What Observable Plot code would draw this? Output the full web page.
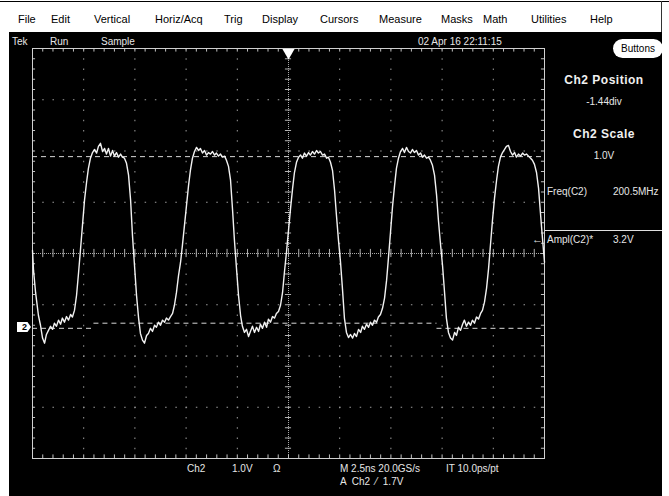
<!DOCTYPE html>
<html>
<head>
<meta charset="utf-8">
<script src="https://cdn.jsdelivr.net/npm/d3@7"></script>
<script src="https://cdn.jsdelivr.net/npm/@observablehq/plot@0.6"></script>
<style>
  html, body { margin: 0; padding: 0; background: #fff; }
  #scope { position: relative; width: 669px; height: 496px; overflow: hidden; background: #fff;
    font-family: "Liberation Sans Narrow", "Liberation Sans", Arial, sans-serif; }
  .abs { position: absolute; white-space: nowrap; line-height: 1; }
  .menu { font-size: 11px; color: #000; top: 14px; }
  .scr { font-size: 10px; color: #e6e6e6; }
  .bold { font-weight: bold; font-size: 12px; font-family: "Liberation Sans", Arial, sans-serif; color: #f0f0f0; letter-spacing: 0.5px; }
  #chart { position: absolute; left: 0; top: 0; }
</style>
</head>
<body>
<div id="scope"></div>
<script>
// ---------- data ----------
const menuItems = ["File","Edit","Vertical","Horiz/Acq","Trig","Display","Cursors","Measure","Masks","Math","Utilities","Help"];
const statusItems = ["Tek","Run","Sample"];
const timestamp = "02 Apr 16 22:11:15";
const panelTitles = ["Ch2 Position","Ch2 Scale"];
const panelValues = ["-1.44div","1.0V"];
const measureNames = ["Freq(C2)","Ampl(C2)*"];
const measureValues = ["200.5MHz","3.2V"];
const readoutLine1 = ["Ch2","1.0V","Ω","M 2.5ns 20.0GS/s","IT 10.0ps/pt"];
const readoutLine2 = ["A  Ch2  ⁄  1.7V"];

// screen: 10 divisions of 2.5 ns, 8 divisions of 1 V, ground at -1.44 div
const timeDomain = [0, 25];
const voltDomain = [-2.56, 5.44];

// waveform samples (ns, V)
const waveT = [0,0.05,0.15,0.29,0.39,0.49,0.59,0.68,0.78,0.88,0.98,1.07,1.17,1.27,1.37,1.46,1.56,1.66,1.76,1.86,1.95,2.05,2.15,2.25,2.34,2.44,2.54,2.64,2.73,2.83,2.93,3.03,3.13,3.22,3.32,3.42,3.52,3.61,3.71,3.81,3.91,4.00,4.10,4.20,4.30,4.39,4.49,4.59,4.69,4.79,4.88,4.98,5.08,5.18,5.27,5.37,5.47,5.57,5.66,5.76,5.86,5.96,6.05,6.15,6.25,6.35,6.45,6.54,6.64,6.74,6.84,6.93,7.03,7.13,7.23,7.32,7.42,7.52,7.62,7.71,7.81,7.91,8.01,8.11,8.20,8.30,8.40,8.50,8.59,8.69,8.79,8.89,8.98,9.08,9.18,9.28,9.38,9.47,9.57,9.67,9.77,9.86,9.96,10.06,10.16,10.25,10.35,10.45,10.55,10.64,10.74,10.84,10.94,11.04,11.13,11.23,11.33,11.43,11.52,11.62,11.72,11.82,11.91,12.01,12.11,12.21,12.30,12.40,12.50,12.60,12.70,12.79,12.89,12.99,13.09,13.18,13.28,13.38,13.48,13.57,13.67,13.77,13.87,13.96,14.06,14.16,14.26,14.36,14.45,14.55,14.65,14.75,14.84,14.94,15.04,15.14,15.23,15.33,15.43,15.53,15.63,15.72,15.82,15.92,16.02,16.11,16.21,16.31,16.41,16.50,16.60,16.70,16.80,16.89,16.99,17.09,17.19,17.29,17.38,17.48,17.58,17.68,17.77,17.87,17.97,18.07,18.16,18.26,18.36,18.46,18.55,18.65,18.75,18.85,18.95,19.04,19.14,19.24,19.34,19.43,19.53,19.63,19.73,19.82,19.92,20.02,20.12,20.21,20.31,20.41,20.51,20.61,20.70,20.80,20.90,21.00,21.09,21.19,21.29,21.39,21.48,21.58,21.68,21.78,21.88,21.97,22.07,22.17,22.27,22.36,22.46,22.56,22.66,22.75,22.85,22.95,23.05,23.14,23.24,23.34,23.44,23.54,23.63,23.73,23.83,23.93,24.02,24.12,24.22,24.32,24.41,24.51,24.61,24.71,24.80,24.90,25.00];
const waveV = [1.50,1.11,0.68,0.23,0.04,-0.21,-0.31,-0.14,-0.06,0.02,-0.04,0.08,0.02,0.14,0.06,0.18,0.10,0.21,0.14,0.25,0.20,0.33,0.62,1.07,1.50,1.99,2.48,2.83,3.10,3.30,3.41,3.47,3.40,3.53,3.59,3.43,3.49,3.38,3.49,3.34,3.45,3.34,3.41,3.32,3.38,3.32,3.30,3.20,2.97,2.48,1.80,1.21,0.62,0.18,-0.12,-0.25,-0.31,-0.16,-0.12,-0.02,-0.08,0.04,0.00,0.10,0.04,0.14,0.10,0.18,0.14,0.21,0.27,0.43,0.68,1.01,1.27,1.60,1.99,2.38,2.77,3.06,3.30,3.43,3.51,3.45,3.49,3.40,3.45,3.36,3.41,3.38,3.43,3.36,3.40,3.34,3.38,3.32,3.34,3.26,3.14,2.87,2.28,1.70,1.15,0.62,0.23,0.02,-0.10,-0.04,-0.18,-0.08,0.02,-0.10,0.00,-0.08,0.06,-0.02,0.10,0.00,0.16,0.10,0.21,0.18,0.27,0.31,0.43,0.68,1.07,1.46,1.89,2.32,2.71,3.02,3.22,3.32,3.36,3.30,3.40,3.34,3.41,3.36,3.43,3.38,3.45,3.40,3.43,3.36,3.38,3.30,3.32,3.22,3.06,2.67,2.19,1.70,1.27,0.72,0.18,-0.10,-0.20,-0.14,-0.21,-0.12,-0.18,-0.04,-0.10,0.02,-0.04,0.06,0.00,0.10,0.04,0.14,0.10,0.20,0.25,0.37,0.57,0.92,1.35,1.85,2.36,2.77,3.10,3.30,3.43,3.49,3.41,3.51,3.43,3.40,3.47,3.41,3.45,3.36,3.40,3.32,3.36,3.30,3.32,3.26,3.16,2.97,2.58,2.09,1.63,1.21,0.68,0.18,-0.10,-0.21,-0.25,-0.10,-0.16,0.00,-0.06,0.06,0.14,0.02,0.10,0.04,0.14,0.08,0.20,0.16,0.27,0.33,0.49,0.76,1.15,1.60,2.09,2.52,2.87,3.14,3.32,3.41,3.47,3.53,3.55,3.43,3.36,3.41,3.32,3.38,3.34,3.40,3.36,3.38,3.34,3.30,3.26,3.18,3.02,2.71,2.24,1.74,1.27];

// measurement cursor levels (V) and their time spans (ns)
const topCursor = [{v: 3.33, t1: 0, t2: 25}];
const baseCursor = [{v: -0.02, t1: 0, t2: 3.0}, {v: 0.08, t1: 3.0, t2: 19.75}, {v: -0.02, t1: 19.75, t2: 25}];
const triggerTime = [12.5];

// ---------- build ----------
const wave = waveT.map((t, i) => ({t, v: waveV[i]}));
const root = document.getElementById("scope");
function add(html) { root.insertAdjacentHTML("beforeend", html); }

// window chrome
add(`<div class="abs" style="left:0;top:1px;width:669px;height:1px;background:#000"></div>`);
add(`<div class="abs" style="left:661px;top:1px;width:1px;height:32px;background:#333"></div>`);
add(`<div class="abs" style="left:9px;top:32px;width:653px;height:464px;background:#000"></div>`);

const menuLeft = [18,51,94,155,224,262,320,379,441,483,531,590];
menuItems.forEach((m, i) => add(`<span class="abs menu" style="left:${menuLeft[i]}px">${m}</span>`));

const statusLeft = [12,50,101];
statusItems.forEach((s, i) => add(`<span class="abs scr" style="left:${statusLeft[i]}px;top:37px">${s}</span>`));
add(`<span class="abs scr" style="left:418px;top:37px">${timestamp}</span>`);

// Buttons pill
add(`<div class="abs" style="left:613px;top:39px;width:50px;height:19px;border-radius:10px;background:#fff;color:#000;font-size:10px;display:flex;align-items:center;justify-content:center">Buttons</div>`);

// right panel
const panelTitleY = [74, 128];
const panelValueY = [97, 151];
panelTitles.forEach((p, i) => {
  add(`<div class="abs bold" style="left:548px;width:112px;text-align:center;top:${panelTitleY[i]}px">${p}</div>`);
  add(`<div class="abs scr" style="left:548px;width:112px;text-align:center;top:${panelValueY[i]}px">${panelValues[i]}</div>`);
});
const measY = [187, 235];
measureNames.forEach((m, i) => {
  add(`<span class="abs scr" style="left:547px;top:${measY[i]}px">${m}</span>`);
  add(`<span class="abs scr" style="left:613px;top:${measY[i]}px">${measureValues[i]}</span>`);
});
add(`<div class="abs" style="left:544px;top:230px;width:118px;height:1px;background:#e0e0e0"></div>`);
add(`<span class="abs scr" style="left:532px;top:234px;font-size:11px">←</span>`);

// ground marker
add(`<div class="abs" style="left:17px;top:322px;width:14px;height:10px;background:#fff;color:#000;font-size:9px;font-weight:bold;line-height:10px;text-align:right;clip-path:polygon(0 0,75% 0,100% 50%,75% 100%,0 100%)"><span style="margin-right:4px">2</span></div>`);

// bottom readouts
const r1Left = [187,232,273,340,446];
readoutLine1.forEach((r, i) => add(`<span class="abs scr" style="left:${r1Left[i]}px;top:464px">${r}</span>`));
add(`<span class="abs scr" style="left:340px;top:477px;white-space:pre">${readoutLine2[0]}</span>`);

// ---------- graticule + trace ----------
const divT = d3.range(1, 10).map(k => k * 2.5).filter(t => t !== 12.5);
const divV = d3.range(1, 8).map(k => voltDomain[0] + k).filter(v => Math.abs(v - 1.44) > 1e-6);
const minorT = d3.range(0, 25.001, 0.5);
const minorV = d3.range(0, 8.001, 0.2).map(k => voltDomain[0] + k);
const cT = 12.5, cV = 1.44;
const dotCol = "#9c9c9c";

const chart = Plot.plot({
  width: 669, height: 496,
  marginLeft: 32, marginRight: 125, marginTop: 48, marginBottom: 38,
  x: {domain: timeDomain, axis: null},
  y: {domain: voltDomain, axis: null},
  style: {background: "transparent", overflow: "visible"},
  marks: [
    Plot.ruleX(divT, {x: d => d, y1: voltDomain[1], y2: voltDomain[0], stroke: dotCol, strokeDasharray: "1.5 8.75"}),
    Plot.ruleY(divV, {y: d => d, x1: timeDomain[0], x2: timeDomain[1], stroke: dotCol, strokeDasharray: "1.5 8.74"}),
    // center axes
    Plot.ruleY([cV], {y: d => d, stroke: "#a8a8a8", strokeDasharray: "1 1"}),
    Plot.ruleX([cT], {x: d => d, stroke: "#a8a8a8", strokeDasharray: "1 1"}),
    Plot.ruleX(minorT, {x: d => d, y1: () => cV - 0.08, y2: () => cV + 0.08, stroke: "#b0b0b0"}),
    Plot.ruleY(minorV, {y: d => d, x1: () => cT - 0.15, x2: () => cT + 0.15, stroke: "#b0b0b0"}),
    // border ticks
    Plot.ruleX(minorT, {x: d => d, y1: () => voltDomain[1], y2: () => voltDomain[1] - 0.07, stroke: "#c0c0c0"}),
    Plot.ruleX(minorT, {x: d => d, y1: () => voltDomain[0], y2: () => voltDomain[0] + 0.07, stroke: "#c0c0c0"}),
    Plot.ruleY(minorV, {y: d => d, x1: () => timeDomain[0], x2: () => timeDomain[0] + 0.15, stroke: "#c0c0c0"}),
    Plot.ruleY(minorV, {y: d => d, x1: () => timeDomain[1], x2: () => timeDomain[1] - 0.15, stroke: "#c0c0c0"}),
    Plot.frame({stroke: "#d0d0d0"}),
    // measurement cursors
    Plot.ruleY(topCursor, {y: "v", x1: "t1", x2: "t2", stroke: "#d8d8d8", strokeDasharray: "5 4"}),
    Plot.ruleY(baseCursor, {y: "v", x1: "t1", x2: "t2", stroke: "#d8d8d8", strokeDasharray: "5 4"}),
    // trace
    Plot.line(wave, {x: "t", y: "v", stroke: "#f2f2f2", strokeWidth: 1.4, curve: "linear"}),
    // trigger position marker
    Plot.dot(triggerTime, {x: d => d, y: () => voltDomain[1], dy: 4, symbol: "triangle", r: 4.5, fill: "#fff", stroke: "none", rotate: 180})
  ]
});
chart.id = "chart";
root.appendChild(chart);
</script>
</body>
</html>
